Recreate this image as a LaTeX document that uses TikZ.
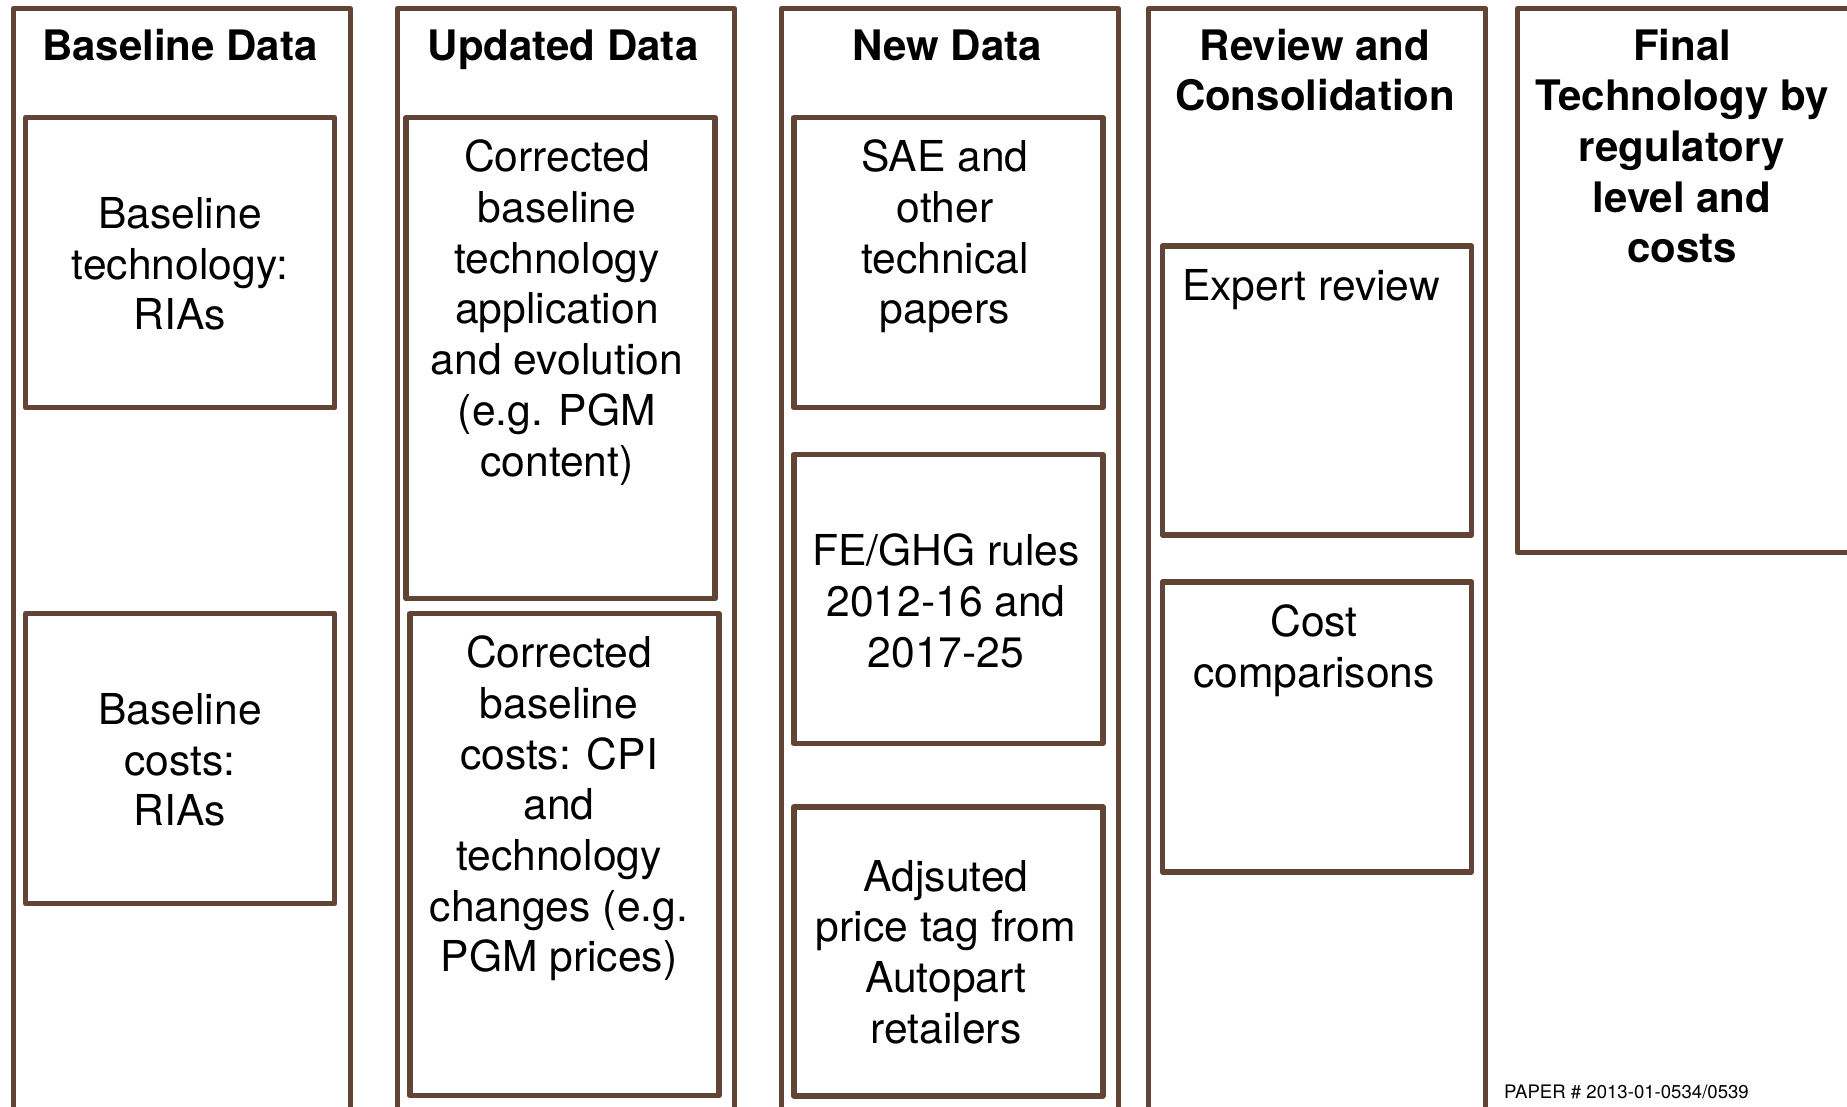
\documentclass[tikz,border=0pt]{standalone}
\usepackage{fontspec}
\setmainfont{TeX Gyre Heros}
\definecolor{frame}{RGB}{98,68,55}
\begin{document}
\begin{tikzpicture}[x=1pt,y=-1pt,
  column/.style={draw=frame, line width=5.2pt, line join=round, rectangle,
    inner sep=0pt, anchor=north west},
  cell/.style={draw=frame, line width=5.5pt, line join=round, rectangle,
    inner sep=0pt, minimum width=309pt},
  head/.style={font=\fontsize{42}{50.7}\selectfont\bfseries, align=center, inner sep=0pt},
  body/.style={font=\fontsize{42.6}{50.7}\selectfont, align=center, inner sep=0pt}]
\useasboundingbox (0,0) rectangle (1847,1106);
\clip (0,0) rectangle (1847,1106);

% columns (open below the page edge)
\node[column, minimum width=337pt, minimum height=1200pt] (c1) at (10.6,5.9) {};
\node[column, minimum width=337pt, minimum height=1200pt] (c2) at (394.6,5.9) {};
\node[column, minimum width=337pt, minimum height=1200pt] (c3) at (778.6,5.9) {};
\node[column, minimum width=337pt, minimum height=1200pt] (c4) at (1146,5.9) {};
\node[column, minimum width=400pt, minimum height=544pt] (c5) at (1515,5.9) {};

% column headings
\node[head] (h1) at (180,45) {Baseline Data};
\node[head] (h2) at (563,49.5) {Updated Data};
\node[head] (h3) at (947,45) {New Data};
\node[head] (h4) at (1315,70) {Review and\\Consolidation};
\node[head] (h5) at (1682,146) {Final\\Technology by\\regulatory\\level and\\costs};

% boxes
\node[cell, minimum height=290pt] (b11) at (180.2,262.7) {};
\node[cell, minimum height=290pt] (b12) at (180.2,758.6) {};
\node[cell, minimum height=481pt] (b21) at (560.7,358.1) {};
\node[cell, minimum height=482pt] (b22) at (564.3,854.6) {};
\node[cell, minimum height=290pt] (b31) at (948.3,262.7) {};
\node[cell, minimum height=289pt] (b32) at (948.3,599) {};
\node[cell, minimum height=289pt] (b33) at (948.3,951.3) {};
\node[cell, minimum height=289pt] (b41) at (1317,390.5) {};
\node[cell, minimum height=290pt] (b42) at (1317,726.9) {};

% box texts
\node[body] (t11) at (180,264) {Baseline\\technology:\\RIAs};
\node[body] (t12) at (180,760) {Baseline\\costs:\\RIAs};
\node[body] (t21) at (557,312.5) {Corrected\\baseline\\technology\\application\\and evolution\\(e.g. PGM\\content)};
\node[body] (t22) at (559,808.5) {Corrected\\baseline\\costs: CPI\\and\\technology\\changes (e.g.\\PGM prices)};
\node[body] (t31) at (945,236.5) {SAE and\\other\\technical\\papers};
\node[body] (t32) at (946,601) {FE/GHG rules\\2012-16 and\\2017-25};
\node[body] (t33) at (946,952) {Adjsuted\\price tag from\\Autopart\\retailers};
\node[body] (t41) at (1311,289.5) {Expert review};
\node[body] (t42) at (1314,650.5) {Cost\\comparisons};

\node[font=\fontsize{18.6}{22}\selectfont, anchor=base west, inner sep=0pt] (paper) at (1504,1098) {PAPER \# 2013-01-0534/0539};
\end{tikzpicture}
\end{document}
